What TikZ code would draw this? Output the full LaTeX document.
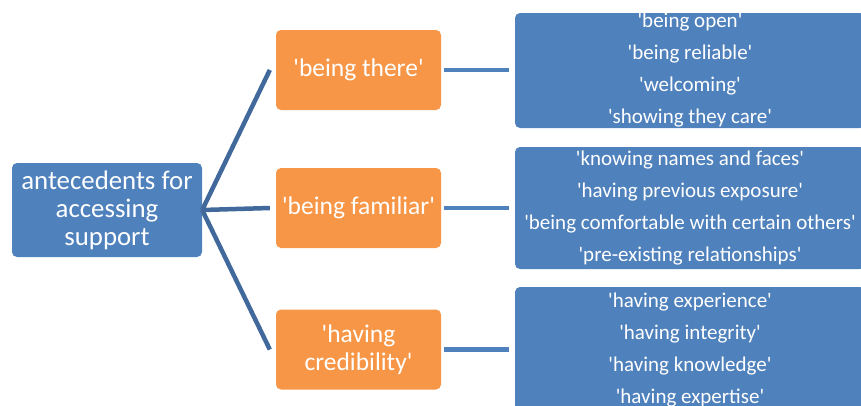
\documentclass[tikz,border=0pt]{standalone}
\usepackage{fontspec}
\setmainfont{Carlito}[Ligatures=TeXOff] % keep ' as a straight quote
\usetikzlibrary{positioning}

\definecolor{boxblue}{HTML}{4F81BD}
\definecolor{boxorange}{HTML}{F79646}
\definecolor{linkblue}{HTML}{41699C}

\begin{document}
\begin{tikzpicture}[
            x = 1pt, y = -1pt, % pixel-like units, y pointing down
            rounded corners = 5pt, % corner radius of the boxes
            line cap = butt
        ]

        \tikzstyle{every node}=[
            text = white,
            align = center,
            inner sep = 0pt
        ]
        \tikzstyle{rootbox}=[fill = boxblue, minimum width = 190pt, minimum height = 94pt,
            font = \fontsize{26.8}{28}\selectfont]
        \tikzstyle{themebox}=[fill = boxorange, minimum width = 165pt, minimum height = 80pt,
            font = \fontsize{25.5}{28}\selectfont]
        \tikzstyle{itembox}=[fill = boxblue, minimum width = 350pt,
            font = \fontsize{21}{32}\selectfont]
        \tikzstyle{leftlink}=[draw = linkblue, line width = 4.5pt, sharp corners]
        \tikzstyle{rightlink}=[draw = boxblue, line width = 4.5pt, sharp corners]

        \useasboundingbox (0,0) rectangle (861,405);

        % root and the three themes
        \node[rootbox] (root) at (107,210) {antecedents for\\accessing\\support};
        \node[themebox] (there) at (358.5,70) {'being there'};
        \node[themebox] (familiar) at (358.5,208) {'being familiar'};
        \node[themebox] (credible) at (358.5,349.5) {'having\\credibility'};

        % lists of what each theme means
        \node[itembox, minimum height = 115pt] (thereitems) at (690,70.5)
            {'being open'\\'being reliable'\\'welcoming'\\'showing they care'};
        \node[itembox, minimum height = 122pt] (familiaritems) at (690,208)
            {'knowing names and faces'\\'having previous exposure'\\'being comfortable with certain others'\\'pre-existing relationships'};
        \node[itembox, minimum height = 126pt] (credibleitems) at (690,350)
            {'having experience'\\'having integrity'\\'having knowledge'\\'having expertise'};

        % connectors
        \path[leftlink] (root.east) -- ([xshift=-6pt]there.west);
        \path[leftlink] (root.east) -- ([xshift=-6pt]familiar.west);
        \path[leftlink] (root.east) -- ([xshift=-6pt]credible.west);

        \path[rightlink, shorten <=3pt, shorten >=6pt] (there.east) -- (there.east -| thereitems.west);
        \path[rightlink, shorten <=3pt, shorten >=6pt] (familiar.east) -- (familiar.east -| familiaritems.west);
        \path[rightlink, shorten <=3pt, shorten >=6pt] (credible.east) -- (credible.east -| credibleitems.west);

  \end{tikzpicture}
\end{document}
